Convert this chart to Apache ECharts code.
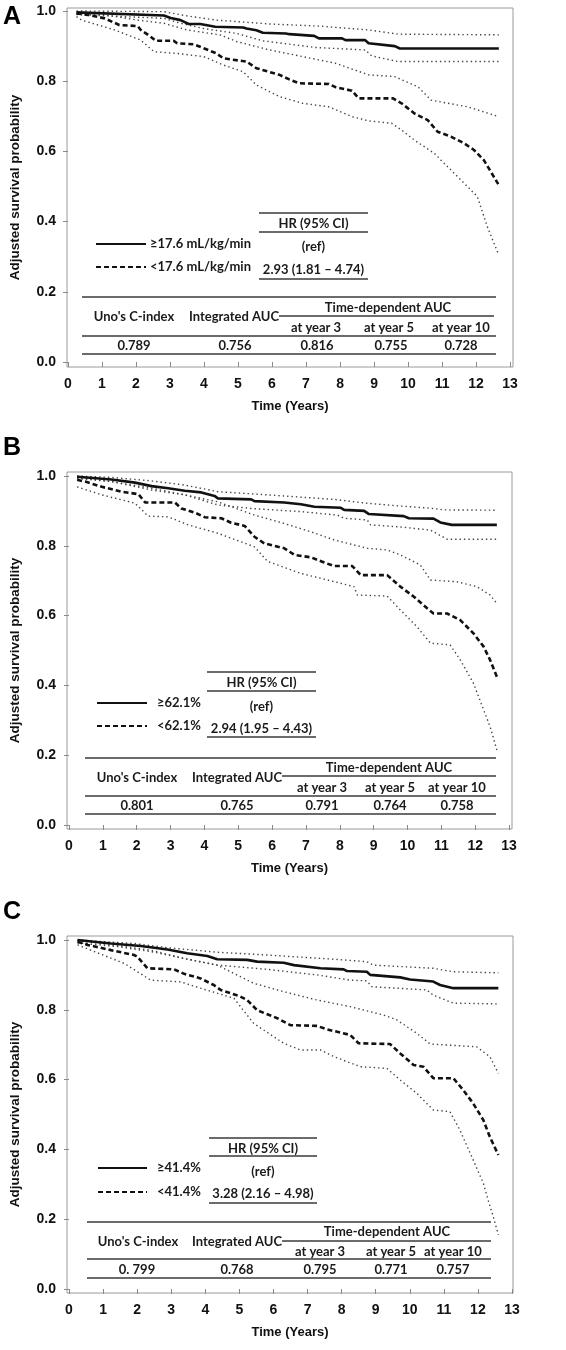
<!DOCTYPE html>
<html><head><meta charset="utf-8">
<script src="https://cdn.jsdelivr.net/npm/echarts@6/dist/echarts.min.js"></script>
<style>html,body{margin:0;padding:0;background:#fff}#c{width:566px;height:1350px}</style>
</head><body><div id="c"></div>
<script>
// ---------- data ----------
const xTicks = [0,1,2,3,4,5,6,7,8,9,10,11,12,13];
const yTicks = [0,0.2,0.4,0.6,0.8,1.0];
const panelLetters = ['A','B','C'];
const xTitle = 'Time (Years)';
const yTitle = 'Adjusted survival probability';

const groupLabelsA = ['≥17.6 mL/kg/min','<17.6 mL/kg/min'];
const groupLabelsB = ['≥62.1%','<62.1%'];
const groupLabelsC = ['≥41.4%','<41.4%'];
const hrHeader = 'HR (95% CI)';
const hrA = ['(ref)','2.93 (1.81 – 4.74)'];
const hrB = ['(ref)','2.94 (1.95 – 4.43)'];
const hrC = ['(ref)','3.28 (2.16 – 4.98)'];
const metricHeaders = ["Uno's C-index",'Integrated AUC','Time-dependent AUC'];
const yearHeaders = ['at year 3','at year 5','at year 10'];
const metricsA = ['0.789','0.756','0.816','0.755','0.728'];
const metricsB = ['0.801','0.765','0.791','0.764','0.758'];
const metricsC = ['0. 799','0.768','0.795','0.771','0.757'];

// Panel A curves [time, survival]
const hiA = [[0.25,0.996],[2.82,0.987],[3.02,0.980],[3.31,0.974],[3.55,0.963],[3.89,0.963],[4.33,0.955],[5.15,0.953],[5.25,0.950],[5.54,0.945],[5.73,0.938],[6.41,0.936],[6.51,0.934],[7.24,0.929],[7.38,0.922],[8.06,0.922],[8.16,0.917],[8.74,0.917],[8.84,0.908],[9.61,0.900],[9.76,0.893],[12.67,0.893]];
const hiUpA = [[0.25,1.0],[2.82,0.998],[3.50,0.986],[4.37,0.974],[5.93,0.963],[7.38,0.957],[8.84,0.946],[9.71,0.934],[12.67,0.932]];
const hiLoA = [[0.25,0.99],[2.82,0.979],[3.31,0.965],[3.99,0.950],[4.96,0.936],[5.73,0.915],[7.28,0.896],[8.74,0.889],[8.93,0.872],[9.71,0.856],[12.67,0.856]];
const loA = [[0.25,0.993],[0.59,0.989],[1.08,0.979],[1.51,0.96],[2.05,0.957],[2.14,0.946],[2.43,0.927],[2.58,0.915],[3.11,0.915],[3.21,0.908],[3.70,0.905],[3.99,0.894],[4.37,0.879],[4.57,0.865],[5.25,0.856],[5.54,0.837],[6.22,0.818],[6.51,0.805],[6.80,0.794],[7.67,0.792],[7.87,0.783],[8.35,0.773],[8.55,0.751],[9.56,0.751],[9.81,0.737],[10.19,0.708],[10.58,0.689],[10.87,0.656],[11.26,0.642],[11.65,0.623],[11.94,0.604],[12.13,0.585],[12.23,0.575],[12.67,0.504]];
const loUpA = [[0.25,0.995],[1.08,0.989],[2.05,0.974],[2.82,0.965],[3.50,0.946],[4.47,0.932],[4.96,0.913],[5.93,0.889],[6.90,0.870],[7.87,0.851],[8.84,0.818],[9.61,0.813],[10.29,0.784],[10.68,0.746],[11.75,0.727],[12.67,0.699]];
const loLoA = [[0.25,0.984],[0.40,0.974],[1.37,0.946],[2.14,0.917],[2.53,0.884],[3.21,0.879],[3.99,0.870],[4.57,0.846],[5.15,0.827],[5.54,0.789],[6.22,0.756],[6.90,0.737],[7.67,0.727],[8.35,0.699],[8.84,0.687],[9.52,0.680],[9.81,0.661],[10.19,0.632],[10.78,0.594],[10.97,0.575],[11.55,0.519],[12.04,0.471],[12.33,0.386],[12.52,0.340],[12.67,0.305]];

// Panel B curves
const hiB = [[0.24,0.998],[1.26,0.99],[1.95,0.981],[2.44,0.971],[2.93,0.965],[3.42,0.958],[3.91,0.953],[4.30,0.943],[4.40,0.936],[5.38,0.933],[5.48,0.928],[6.36,0.924],[6.85,0.919],[7.25,0.912],[8.03,0.909],[8.13,0.903],[8.72,0.900],[8.86,0.891],[9.89,0.885],[10.04,0.879],[10.77,0.878],[10.97,0.867],[11.31,0.860],[12.64,0.860]];
const hiUpB = [[0.24,1.0],[1.26,0.996],[2.44,0.986],[3.42,0.974],[4.40,0.955],[5.87,0.946],[7.83,0.933],[8.81,0.922],[9.79,0.914],[10.77,0.907],[11.07,0.903],[12.64,0.902]];
const hiLoB = [[0.24,0.993],[1.26,0.984],[2.44,0.96],[3.42,0.946],[4.40,0.917],[5.38,0.907],[6.85,0.898],[7.93,0.888],[8.13,0.879],[8.81,0.874],[8.91,0.860],[9.79,0.854],[10.68,0.845],[11.17,0.819],[12.64,0.819]];
const loB = [[0.24,0.989],[0.48,0.984],[0.97,0.969],[1.56,0.955],[2.05,0.948],[2.25,0.924],[3.13,0.924],[3.32,0.907],[3.72,0.895],[4.01,0.882],[4.50,0.879],[4.79,0.866],[5.19,0.857],[5.48,0.826],[5.77,0.807],[6.36,0.793],[6.66,0.774],[7.15,0.767],[7.54,0.752],[7.83,0.742],[8.37,0.742],[8.62,0.716],[9.40,0.716],[9.79,0.683],[10.19,0.654],[10.58,0.621],[10.77,0.606],[11.17,0.606],[11.56,0.587],[11.95,0.549],[12.25,0.511],[12.44,0.473],[12.64,0.425]];
const loUpB = [[0.24,0.996],[1.26,0.984],[2.44,0.965],[3.42,0.946],[4.40,0.926],[5.48,0.888],[6.36,0.864],[7.15,0.840],[7.83,0.817],[8.81,0.793],[9.40,0.788],[9.79,0.774],[10.38,0.745],[10.68,0.702],[11.46,0.697],[12.05,0.683],[12.44,0.659],[12.64,0.635]];
const loLoB = [[0.24,0.969],[0.97,0.946],[1.95,0.922],[2.34,0.885],[2.93,0.883],[3.52,0.860],[4.40,0.836],[5.48,0.797],[5.87,0.755],[6.85,0.721],[7.64,0.702],[8.42,0.683],[8.52,0.659],[9.40,0.656],[9.79,0.616],[10.28,0.568],[10.68,0.521],[11.26,0.516],[11.56,0.473],[11.95,0.406],[12.25,0.33],[12.44,0.282],[12.64,0.215]];

// Panel C curves
const hiC = [[0.25,1.0],[1.23,0.99],[2.11,0.983],[2.89,0.973],[3.47,0.962],[4.06,0.954],[4.35,0.945],[5.23,0.943],[5.52,0.938],[6.30,0.935],[6.60,0.928],[7.38,0.919],[8.06,0.916],[8.16,0.911],[8.74,0.909],[8.84,0.900],[9.72,0.893],[10.01,0.887],[10.69,0.881],[10.89,0.871],[11.28,0.862],[12.60,0.862]];
const hiUpC = [[0.25,1.0],[1.91,0.99],[2.89,0.978],[4.35,0.965],[5.81,0.957],[7.77,0.945],[8.74,0.938],[8.94,0.928],[10.69,0.919],[11.28,0.909],[12.60,0.906]];
const hiLoC = [[0.25,0.992],[1.42,0.981],[2.40,0.967],[3.38,0.947],[4.35,0.928],[5.81,0.916],[7.28,0.900],[8.25,0.885],[8.74,0.883],[8.89,0.866],[10.50,0.857],[10.69,0.842],[11.28,0.819],[12.60,0.817]];
const loC = [[0.25,0.995],[0.55,0.986],[1.23,0.971],[1.91,0.957],[2.01,0.952],[2.30,0.919],[3.08,0.916],[3.38,0.903],[3.86,0.890],[4.25,0.871],[4.45,0.857],[5.03,0.838],[5.23,0.828],[5.52,0.799],[6.11,0.776],[6.50,0.756],[7.28,0.754],[7.57,0.744],[8.25,0.728],[8.50,0.704],[9.42,0.702],[9.72,0.675],[10.11,0.642],[10.40,0.637],[10.69,0.604],[11.28,0.604],[11.57,0.570],[11.86,0.532],[12.16,0.484],[12.35,0.436],[12.60,0.384]];
const loUpC = [[0.25,0.998],[1.23,0.986],[2.40,0.971],[3.38,0.947],[4.35,0.928],[5.42,0.876],[6.30,0.852],[7.28,0.828],[8.25,0.809],[9.23,0.785],[9.62,0.771],[10.20,0.733],[10.60,0.702],[11.96,0.694],[12.35,0.666],[12.60,0.618]];
const loLoC = [[0.25,0.986],[0.74,0.967],[1.62,0.933],[2.40,0.885],[3.28,0.880],[3.86,0.862],[4.84,0.833],[5.42,0.761],[6.30,0.704],[6.79,0.685],[7.38,0.685],[7.77,0.666],[8.55,0.637],[9.33,0.632],[9.72,0.599],[10.20,0.561],[10.69,0.513],[11.18,0.508],[11.47,0.456],[11.86,0.370],[12.16,0.303],[12.30,0.255],[12.45,0.207],[12.60,0.155]];

// ---------- layout ----------
const panels = [
  {letterY:5, grid:{left:62,top:8,width:451,height:359}, xr:[-0.029,13.087], yr:[-0.0142,1.0085],
   curves:[hiA,hiUpA,hiLoA,loA,loUpA,loLoA], labels:groupLabelsA, hr:hrA, metrics:metricsA,
   hrBox:{x1:259,x2:368,l:[213,232,279],t:[224,247,270]},
   leg:{x1:96,x2:146,y:[244,267],tx:150},
   tab:{x1:82,x2:496,l:[297,336,354],sub:[279,494,316],tdY:308,tdX:388,hY:317,hX:[134,234],yrY:328,yrX:[316,389,461],vY:346,vX:[134,235,317,391,461]}},
  {letterY:436, grid:{left:65,top:472,width:447,height:357}, xr:[-0.059,13.088], yr:[-0.0115,1.0115],
   curves:[hiB,hiUpB,hiLoB,loB,loUpB,loLoB], labels:groupLabelsB, hr:hrB, metrics:metricsB,
   hrBox:{x1:207,x2:316,l:[672,691,737],t:[683,707,729]},
   leg:{x1:97,x2:147,y:[703,726],tx:157},
   tab:{x1:85,x2:496,l:[758,796,814],sub:[282,496,776],tdY:768,tdX:389,hY:778,hX:[137,237],yrY:788,yrX:[322,390,457],vY:806,vX:[137,237,322,390,457]}},
  {letterY:900, grid:{left:66,top:936,width:447,height:357}, xr:[-0.059,13.03], yr:[-0.0115,1.0115],
   curves:[hiC,hiUpC,hiLoC,loC,loUpC,loLoC], labels:groupLabelsC, hr:hrC, metrics:metricsC,
   hrBox:{x1:209,x2:317,l:[1138,1156,1203],t:[1149,1172,1194]},
   leg:{x1:98,x2:147,y:[1168,1192],tx:157},
   tab:{x1:87,x2:491,l:[1222,1259,1278],sub:[282,491,1241],tdY:1232,tdX:387,hY:1242,hX:[138,237],yrY:1252,yrX:[320,391,453],vY:1270,vX:[137,237,320,391,453]}}
];

const AX_FONT = '"Liberation Sans", Arial, sans-serif';
const TB_FONT = 'Lato, "Open Sans", sans-serif';
const grids = [], xAxes = [], yAxes = [], series = [], graphics = [];

function txt(x, y, s, align, size) {
  return {type:'text', x:x, y:y, silent:true,
    style:{text:s, font:'bold ' + (size||13) + 'px ' + TB_FONT, fill:'#1a1a1a', align:align||'center', verticalAlign:'middle'}};
}
function ln(x1, y1, x2, y2, w, c, dash) {
  return {type:'line', silent:true, shape:{x1:x1,y1:y1,x2:x2,y2:y2},
    style:{stroke:c||'#3a3a3a', lineWidth:w||1.5, lineDash:dash||null}};
}

panels.forEach((p, i) => {
  grids.push(Object.assign({show:true, borderColor:'#9a9a9a', borderWidth:1, backgroundColor:'#fff'}, p.grid));
  xAxes.push({type:'value', gridIndex:i, min:p.xr[0], max:p.xr[1],
    name:xTitle, nameLocation:'middle', nameGap:33,
    nameTextStyle:{fontFamily:AX_FONT, fontWeight:'bold', fontSize:13, color:'#111'},
    axisLine:{show:false}, splitLine:{show:false},
    axisTick:{show:true, length:5, customValues:xTicks, lineStyle:{color:'#8a8a8a'}},
    axisLabel:{customValues:xTicks, margin:10, fontFamily:AX_FONT, fontWeight:'bold', fontSize:14, color:'#111'}});
  yAxes.push({type:'value', gridIndex:i, min:p.yr[0], max:p.yr[1],
    name:yTitle, nameLocation:'middle', nameGap:45, nameRotate:90,
    nameTextStyle:{fontFamily:AX_FONT, fontWeight:'bold', fontSize:13.5, color:'#111'},
    axisLine:{show:false}, splitLine:{show:false},
    axisTick:{show:true, length:5, customValues:yTicks, lineStyle:{color:'#8a8a8a'}},
    axisLabel:{customValues:yTicks, margin:11, fontFamily:AX_FONT, fontWeight:'bold', fontSize:14, color:'#111',
      formatter: v => v.toFixed(1)}});

  const [hi, hiUp, hiLo, lo, loUp, loLo] = p.curves;
  const dotted = {color:'#444', width:1.4, type:[1.4,3]};
  [hiUp, hiLo, loUp, loLo].forEach(d => series.push({type:'line', xAxisIndex:i, yAxisIndex:i, data:d,
    showSymbol:false, silent:true, lineStyle:dotted, z:2}));
  series.push({type:'line', xAxisIndex:i, yAxisIndex:i, data:lo, showSymbol:false, silent:true,
    lineStyle:{color:'#111', width:2.6, type:[5,3]}, z:3});
  series.push({type:'line', xAxisIndex:i, yAxisIndex:i, data:hi, showSymbol:false, silent:true,
    lineStyle:{color:'#111', width:2.6, type:'solid'}, z:4});

  // panel letter
  graphics.push({type:'text', x:3, y:p.letterY, silent:true,
    style:{text:panelLetters[i], font:'bold 25px ' + AX_FONT, fill:'#000', align:'left', verticalAlign:'top'}});
  // legend
  graphics.push(ln(p.leg.x1, p.leg.y[0], p.leg.x2, p.leg.y[0], 2, '#111'));
  graphics.push(ln(p.leg.x1, p.leg.y[1], p.leg.x2, p.leg.y[1], 2, '#111', [5,3]));
  graphics.push(txt(p.leg.tx, p.leg.y[0], p.labels[0], 'left'));
  graphics.push(txt(p.leg.tx, p.leg.y[1], p.labels[1], 'left'));
  // HR table
  const hb = p.hrBox, hc = (hb.x1 + hb.x2) / 2;
  hb.l.forEach(y => graphics.push(ln(hb.x1, y, hb.x2, y)));
  graphics.push(txt(hc, hb.t[0], hrHeader));
  graphics.push(txt(hc, hb.t[1], p.hr[0]));
  graphics.push(txt(hc, hb.t[2], p.hr[1]));
  // metrics table
  const t = p.tab;
  t.l.forEach(y => graphics.push(ln(t.x1, y, t.x2, y)));
  graphics.push(ln(t.sub[0], t.sub[2], t.sub[1], t.sub[2]));
  graphics.push(txt(t.hX[0], t.hY, metricHeaders[0]));
  graphics.push(txt(t.hX[1], t.hY, metricHeaders[1]));
  graphics.push(txt(t.tdX, t.tdY, metricHeaders[2]));
  yearHeaders.forEach((h, k) => graphics.push(txt(t.yrX[k], t.yrY, h)));
  p.metrics.forEach((v, k) => graphics.push(txt(t.vX[k], t.vY, v)));
});

const chart = echarts.init(document.getElementById('c'), null, {renderer:'canvas'});
chart.setOption({animation:false, backgroundColor:'#fff', grid:grids, xAxis:xAxes, yAxis:yAxes, series:series, graphic:graphics});
</script></body></html>
